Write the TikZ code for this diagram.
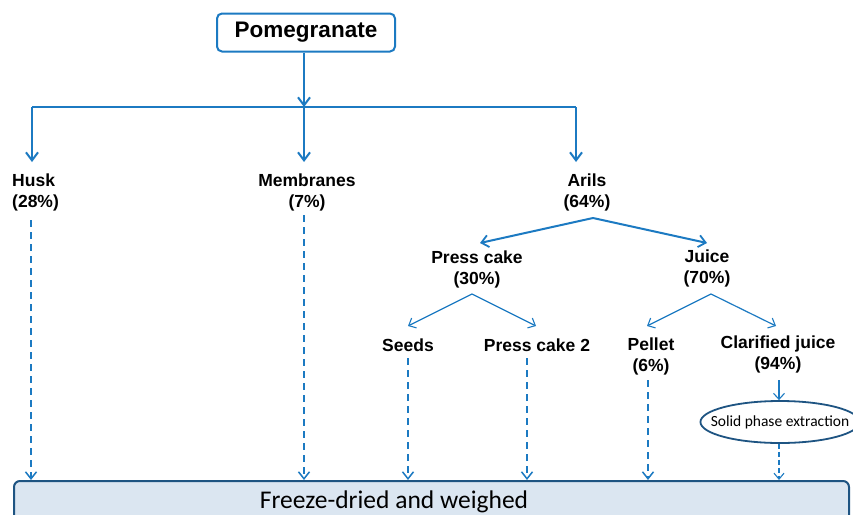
\documentclass[tikz,border=0pt]{standalone}
\usepackage{fontspec}
\setmainfont{Liberation Sans}
\newfontfamily\calib{Carlito}
\usetikzlibrary{arrows.meta,shapes.geometric}
\definecolor{arrblue}{RGB}{28,122,194}
\definecolor{darkblue}{RGB}{30,84,130}
\definecolor{boxfill}{RGB}{219,230,241}
\tikzset{
  lbl/.style={font=\fontsize{17.5}{21}\selectfont\bfseries, inner sep=0pt, align=center},
  mainarr/.style={draw=arrblue, line width=2.2pt, -{Straight Barb[length=8pt,width=12pt,line width=2pt]}},
  mainline/.style={draw=arrblue, line width=2.2pt},
  splitarr/.style={draw=arrblue, line width=2pt, -{Straight Barb[length=7pt,width=12pt,line width=1.8pt]}},
  thinarr/.style={draw=arrblue, line width=1.2pt, -{Straight Barb[length=6pt,width=11pt,line width=1.1pt]}},
  dasharr/.style={draw=arrblue, line width=1.8pt, dash pattern=on 7pt off 5pt, -{Straight Barb[length=7pt,width=11pt,line width=1.5pt,sep=0pt]}},
  dashthin/.style={draw=arrblue, line width=1.2pt, dash pattern=on 5pt off 3pt, -{Straight Barb[length=6pt,width=10pt,line width=1.1pt]}},
}
\begin{document}
\begin{tikzpicture}[x=1pt,y=-1pt]
\clip (0,0) rectangle (853,514);
\fill[white] (0,0) rectangle (853,514);
% top box
\node[draw=arrblue, line width=2pt, rounded corners=5pt, minimum width=178pt, minimum height=38pt, inner sep=0pt,
  font=\fontsize{22.5}{26}\selectfont\bfseries] (pom) at (306,32.5) {Pomegranate};
% bottom box
\node[draw=darkblue, fill=boxfill, line width=2pt, rounded corners=6pt, minimum width=835pt, minimum height=70pt, inner sep=0pt, anchor=north west] (fd) at (13,480) {};
\node[font=\calib\fontsize{25.5}{30}\selectfont, inner sep=0pt, anchor=base] (fdt) at (394,508) {Freeze-dried and weighed};
% labels
\node[lbl, align=left, anchor=west] (husk) at (12,192) {Husk\\(28\%)};
\node[lbl] (mem) at (307,192) {Membranes\\(7\%)};
\node[lbl] (arils) at (587,192) {Arils\\(64\%)};
\node[lbl] (pcake) at (477,269) {Press cake\\(30\%)};
\node[lbl] (juice) at (707,268) {Juice\\(70\%)};
\node[lbl] (seeds) at (408,345) {Seeds};
\node[lbl] (pc2) at (537,345) {Press cake 2};
\node[lbl] (pellet) at (651,356) {Pellet\\(6\%)};
\node[lbl] (cj) at (778,354) {Clarified juice\\(94\%)};
\node[draw=darkblue, line width=1.8pt, ellipse, minimum width=156pt, minimum height=42pt, inner xsep=-13pt, inner ysep=0pt,
  font=\calib\fontsize{15.5}{18}\selectfont] (spe) at (780,422) {Solid phase extraction};
% coordinates
\coordinate (junc) at (304,107);
\coordinate (hl) at (32,107);
\coordinate (hr) at (576,107);
\coordinate (thusk) at (32,162);
\coordinate (tmem) at (304,162);
\coordinate (taril) at (576,162);
\coordinate (aap) at (593,218);
\coordinate (tpc) at (480,243);
\coordinate (tju) at (707,243);
\coordinate (pap) at (472,294);
\coordinate (tseed) at (408,326);
\coordinate (tpc2) at (536,326);
\coordinate (jap) at (711,294);
\coordinate (tpel) at (647,326);
\coordinate (tcj) at (776,326);
\coordinate (shusk) at (31,220);
\coordinate (smem) at (304,215);
\coordinate (sseed) at (408,358);
\coordinate (spc2) at (527,358);
\coordinate (spel) at (648,380);
\coordinate (scj) at (779,380);
% main tree
\draw[mainarr] (pom.south -| junc) -- (junc);
\draw[mainline] (hl) -- (hr);
\draw[mainarr] (hl) -- (thusk);
\draw[mainarr] (junc) -- (tmem);
\draw[mainarr] (hr) -- (taril);
% splits
\draw[splitarr] (aap) -- (tpc);
\draw[splitarr] (aap) -- (tju);
\draw[thinarr] (pap) -- (tseed);
\draw[thinarr] (pap) -- (tpc2);
\draw[thinarr] (jap) -- (tpel);
\draw[thinarr] (jap) -- (tcj);
\draw[thinarr] (scj) -- (scj |- spe.north);
% dashed
\draw[dasharr] (shusk) -- (shusk |- fd.north);
\draw[dasharr] (smem) -- (smem |- fd.north);
\draw[dasharr] (sseed) -- (sseed |- fd.north);
\draw[dasharr] (spc2) -- (spc2 |- fd.north);
\draw[dasharr] (spel) -- (spel |- fd.north);
\draw[dashthin] (spe.south -| scj) -- (scj |- fd.north);
\end{tikzpicture}
\end{document}
